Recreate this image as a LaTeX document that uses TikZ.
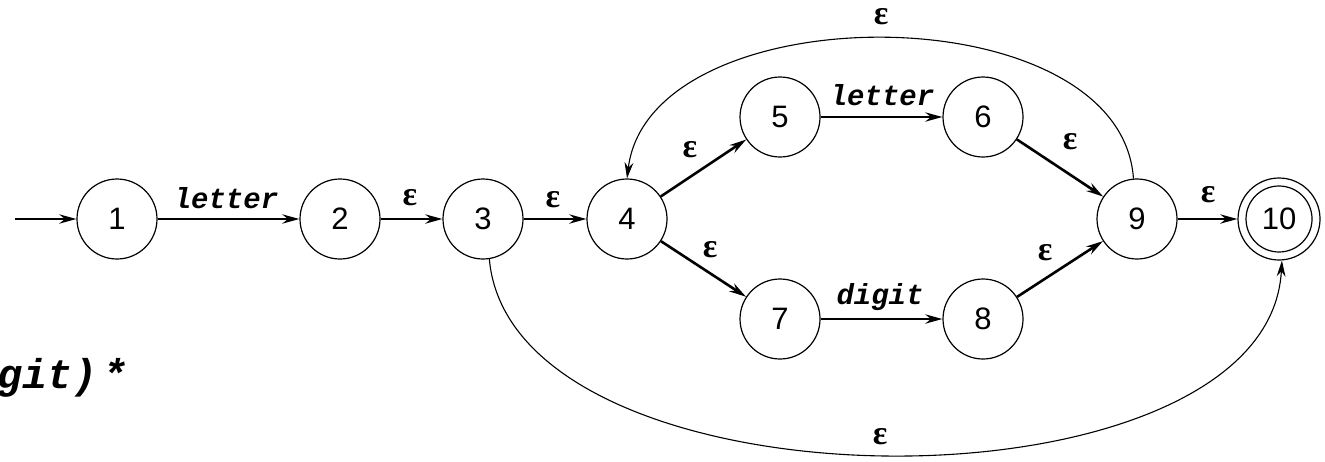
\documentclass[tikz,border=0pt]{standalone}
\usepackage{fontspec}
\setmainfont{Liberation Sans}
\newfontfamily\monofnt{Liberation Mono}
\newfontfamily\epsfnt{Liberation Serif}
\usetikzlibrary{arrows.meta}
\begin{document}
\begin{tikzpicture}[x=0.5pt,y=0.5pt,
  state/.style={circle,draw,line width=0.6pt,minimum size=40pt,inner sep=0pt,font=\fontsize{15.5}{18}\selectfont},
  edge/.style={line width=1.3pt,-{Stealth[length=8.5pt,width=4.6pt]}},
  arcedge/.style={line width=0.55pt,-{Stealth[length=8pt,width=4.4pt]}},
  eps/.style={font=\epsfnt\bfseries\fontsize{17}{19}\selectfont,inner sep=0pt},
  lbl/.style={font=\monofnt\bfseries\itshape\fontsize{14.5}{16}\selectfont,inner sep=0pt}]
\useasboundingbox (0,0) rectangle (1325,-461);
% states
\node[state] (n1) at (117,-219) {1};
\node[state] (n2) at (340,-219) {2};
\node[state] (n3) at (483,-219) {3};
\node[state] (n4) at (627,-219) {4};
\node[state] (n5) at (780,-117) {5};
\node[state] (n6) at (983,-117) {6};
\node[state] (n7) at (780,-319) {7};
\node[state] (n8) at (983,-319) {8};
\node[state] (n9) at (1137,-219) {9};
\node[state,minimum size=41pt] (n10) at (1279,-219) {10};
\draw[line width=0.6pt] (n10.center) circle (16.5pt);
\coordinate (start) at (15,-219);
% edges
\draw[edge] (start) -- (n1);
\draw[edge] (n1) -- (n2);
\draw[edge] (n2) -- (n3);
\draw[edge] (n3) -- (n4);
\draw[edge] (n4) -- (n5);
\draw[edge] (n4) -- (n7);
\draw[edge] (n5) -- (n6);
\draw[edge] (n7) -- (n8);
\draw[edge] (n6) -- (n9);
\draw[edge] (n8) -- (n9);
\draw[edge] (n9) -- (n10);
\draw[arcedge] (n9.95) to[out=94,in=83,looseness=0.95] (n4.north);
\draw[arcedge] (n3.-81) to[out=-85,in=267,looseness=0.84] (n10.-86);
% labels
\node[lbl] (l12) at (226,-198) {letter};
\node[eps] (e23) at (410,-198) {ε};
\node[eps] (e34) at (553,-200) {ε};
\node[eps] (e45) at (690,-150) {ε};
\node[eps] (e47) at (710,-250) {ε};
\node[lbl] (l56) at (882,-95) {letter};
\node[lbl] (l78) at (880,-297) {digit};
\node[eps] (e69) at (1070,-142) {ε};
\node[eps] (e89) at (1045,-253) {ε};
\node[eps] (e910) at (1208,-195) {ε};
\node[eps] (etop) at (881,-17) {ε};
\node[eps] (ebot) at (880,-437) {ε};
\node[font=\monofnt\bfseries\itshape\fontsize{20.8}{24}\selectfont,anchor=base west,inner sep=0pt] (rx) at (-3,-388) {git)\kern2.5pt*};
\end{tikzpicture}
\end{document}
